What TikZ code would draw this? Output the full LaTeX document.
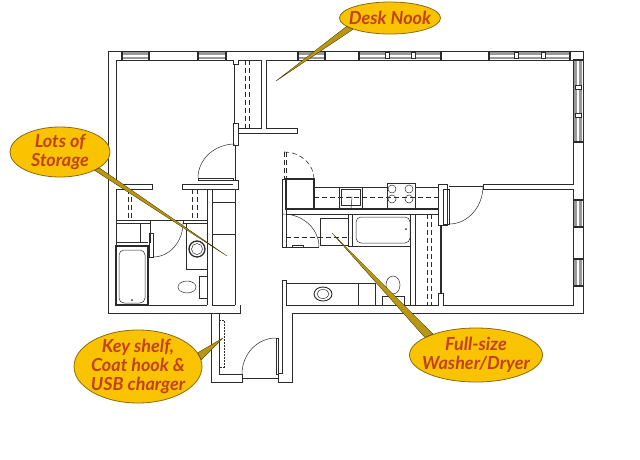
\documentclass[tikz,border=0pt]{standalone}
\usepackage{fontspec}
\usetikzlibrary{shapes.geometric}
\newfontfamily\calloutfont{Lato}
\definecolor{wallink}{HTML}{2B2B2B}
\definecolor{calloutfill}{HTML}{F9C300}
\definecolor{calloutedge}{HTML}{8A6A10}
\definecolor{callouttext}{HTML}{C2401C}
\definecolor{leadergold}{HTML}{B8960F}
\tikzset{
  wall/.style={draw=wallink,line width=.9pt},
  heavy/.style={draw=wallink,line width=1.3pt},
  thin/.style={draw=wallink,line width=.5pt},
  hidden/.style={draw=wallink,line width=.6pt,dash pattern=on 5pt off 3pt},
  glazing/.style={fill=black!40},
  mullion/.style={fill=white,draw=wallink,line width=.5pt},
  callout/.style={ellipse,fill=calloutfill,draw=calloutedge,line width=.8pt,inner xsep=-12pt,inner ysep=-8pt,
    text=callouttext,align=center,font=\calloutfont\bfseries\itshape\fontsize{18}{19}\selectfont},
  leader/.style={fill=leadergold,draw=black!70!leadergold,line width=.3pt,line join=round},
}
\begin{document}
\begin{tikzpicture}[x=1pt,y=-1pt]
\useasboundingbox (0,0) rectangle (640,459);

% windows, top and right
\foreach \xa/\xb in {122/149,198/226,298/325,359/441,489/570}{
  \fill[glazing] (\xa,52) rectangle (\xb,59);
  \fill[white] (\xa,54.5) rectangle (\xb,56.5);
  \draw[heavy] (\xa,51) -- (\xa,60);
  \draw[heavy] (\xb,51) -- (\xb,60);
}
\foreach \ya/\yb in {60/142,200/227,259/286}{
  \fill[glazing] (574,\ya) rectangle (582,\yb);
  \fill[white] (577,\ya) rectangle (579,\yb);
  \draw[heavy] (573,\yb) -- (583,\yb);
  \draw[heavy] (573,\ya) -- (583,\ya);
}
\foreach \xa in {387,413,516,543}
  \draw[mullion] (\xa-2,52.5) rectangle (\xa+2,58.5);
\foreach \ya in {87,115}
  \draw[mullion] (575,\ya-2) rectangle (581,\ya+2);

% outer shell
\draw[wall] (108,51) -- (583,51) -- (583,313) -- (292,313) -- (292,382) -- (278,382) -- (278,373) -- (282,373) -- (282,280);
\draw[wall] (108,51) -- (108,313) -- (240,313) -- (240,305);
\draw[wall] (211,313) -- (211,382) -- (242,382) -- (242,374) -- (219,374) -- (219,313);
\draw[wall] (116,184) -- (116,60) -- (233,60);
\draw[wall] (238,60) -- (261,60) -- (261,128) -- (238,128);
\draw[wall] (266,60) -- (573,60) -- (573,184) -- (483,184) -- (483,189) -- (573,189) -- (573,305) -- (443,305) -- (443,293) -- (438,293) -- (438,305) -- (415,305) -- (415,214);
\draw[wall] (266,60) -- (266,128) -- (297,128) -- (297,133) -- (238,133);
\draw[hidden] (245,60) -- (245,128);
\draw[hidden] (249,60) -- (249,128);

% upper left room partition
\draw[wall] (233,60) -- (233,64) -- (238,64) -- (238,60);
\draw[wall] (233,123) rectangle (238,145);
\draw[heavy] (234.5,64) -- (234.5,123);
\draw[thin] (235,145) -- (235,180);
\draw[thin] (235,144) arc[start angle=90,end angle=180,x radius=37,y radius=-34];
\draw[wall] (198,178) rectangle (233,180);
\draw[wall] (116,184) -- (152,184) -- (152,189) -- (116,189) -- (116,305);
\draw[wall] (233,180) -- (238,180) -- (238,189) -- (182,189) -- (182,184) -- (233,184);
\draw[hidden] (128,189) -- (128,218);
\draw[hidden] (131,189) -- (131,218);
\draw[hidden] (192,189) -- (192,218);
\draw[hidden] (197,189) -- (197,218);

% left bath
\draw[wall] (116,220) -- (150,220) -- (150,243);
\draw[wall] (116,223) -- (150,223);
\draw[wall] (183,223) -- (183,220) -- (207,220);
\draw[wall] (183,223) -- (207,223);
\draw[wall] (207,189) -- (207,305);
\draw[wall] (212,189) -- (212,305) -- (235,305);
\draw[thin] (235,189) -- (235,305);
\draw[thin] (212,202) -- (235,202);
\draw[thin] (212,234) -- (235,234);
\draw[thin] (150,220) -- (183,220);
\draw[wall] (149,233) rectangle (153,257);
\draw[thin] (153,257) arc[start angle=270,end angle=360,x radius=30,y radius=-34];
\draw[wall] (116,242) -- (148,242);
\draw[thin] (140,224) -- (140,242);
\draw[heavy] (116,246) rectangle (148,305);
\draw[thin,rounded corners=5pt] (119,250) rectangle (145,303);
\fill[wallink] (132,300) circle[radius=1pt];
\draw[wall] (116,305) -- (207,305);
\draw[thin] (186,223) -- (186,269) -- (207,269);
\draw[heavy] (197,249) ellipse[x radius=8,y radius=8];
\draw[thin] (197,249) ellipse[x radius=5.5,y radius=5.5];
\draw[thin] (187,287) ellipse[x radius=9,y radius=6];
\draw[thin] (199,276) rectangle (207,298);

% entry closet and door
\draw[thin,dash pattern=on 2pt off 1pt] (219,320) -- (224,320) -- (224,367) -- (219,367);
\draw[wall] (276,338) rectangle (278,374);
\draw[thin] (276,338) arc[start angle=90,end angle=180,x radius=34,y radius=-36];
\draw[thin] (242,378) -- (278,378);

% kitchen
\draw[wall] (282,280) -- (286,280) -- (286,305) -- (415,305);
\draw[wall] (282,179) rectangle (286,247);
\draw[heavy] (286,179) rectangle (314,209);
\draw[wall] (314,187) -- (387,187);
\draw[wall] (415,187) -- (438,187);
\draw[hidden] (314,197) -- (438,197);
\draw[heavy] (314,209) -- (439,209);
\draw[wall] (339,187) rectangle (362,209);
\draw[thin] (341,189) rectangle (360,205);
\draw[thin] (348,197) -- (352,197) -- (351,209);
\draw[wall] (387,183) rectangle (415,208);
\foreach \xa/\ya in {392/189,409/189,392/199,409/199}
  \draw[thin] (\xa,\ya) circle[radius=4];
\draw[hidden] (284,152) -- (284,179);
\draw[hidden] (286,152) -- (286,179);
\draw[hidden] (284,152) arc[start angle=90,end angle=0,x radius=30,y radius=-27];

% laundry and right bath
\draw[wall] (286,214) -- (438,214);
\draw[wall] (348,214) rectangle (352,246);
\draw[thin] (320,218) rectangle (348,245);
\draw[hidden] (286,237) -- (348,237);
\draw[wall] (286,247) -- (319,247);
\draw[wall] (292,245) rectangle (303,247);
\draw[thin] (319,247) arc[start angle=0,end angle=90,x radius=36,y radius=-33];
\draw[thin,rounded corners=5pt] (356,217) rectangle (410,243);
\fill[wallink] (406,229) circle[radius=1pt];
\draw[wall] (352,246) -- (410,246);
\draw[wall] (410,214) -- (410,305);
\draw[hidden] (427,214) -- (427,305);
\draw[hidden] (431,214) -- (431,305);
\draw[wall] (286,283) -- (375,283) -- (375,305);
\draw[thin] (358,283) -- (358,305);
\draw[wall] (323,294) ellipse[x radius=9,y radius=7];
\draw[thin] (323,294) ellipse[x radius=6,y radius=4.5];
\draw[thin] (393,285) ellipse[x radius=7,y radius=9];
\draw[thin] (382,296) rectangle (404,305);

% bedroom door
\draw[wall] (438,184) rectangle (447,225);
\draw[wall] (443,189) rectangle (449,224);
\draw[thin] (449,224) arc[start angle=270,end angle=360,x radius=34,y radius=-38];
\draw[thin] (449,186) -- (483,186);
\draw[heavy] (441,225) -- (441,293);

% callouts
\coordinate (deskTip) at (276,81);
\coordinate (storageTip) at (227,256);
\coordinate (shelfTip) at (223,338);
\coordinate (washerTip) at (332,233);
\node[callout,minimum width=101pt,minimum height=32pt] (deskNook) at (390,18) {Desk Nook};
\node[callout,minimum width=100pt,minimum height=50pt] (storage) at (60,152) {Lots of\\Storage};
\node[callout,minimum width=128pt,minimum height=73pt] (shelf) at (138,366.5) {Key shelf,\\Coat hook \&\\USB charger};
\node[callout,minimum width=133pt,minimum height=54pt] (washer) at (476,355) {Full-size\\Washer/Dryer};
\draw[leader] (deskTip) -- (deskNook.191) -- (deskNook.197) -- cycle;
\draw[leader] (storageTip) -- (storage.-22) -- (storage.-28) -- cycle;
\draw[leader] (shelfTip) -- (shelf.6) -- (shelf.13) -- cycle;
\draw[leader] (washerTip) -- (washer.154) -- (washer.161) -- cycle;
\end{tikzpicture}
\end{document}
